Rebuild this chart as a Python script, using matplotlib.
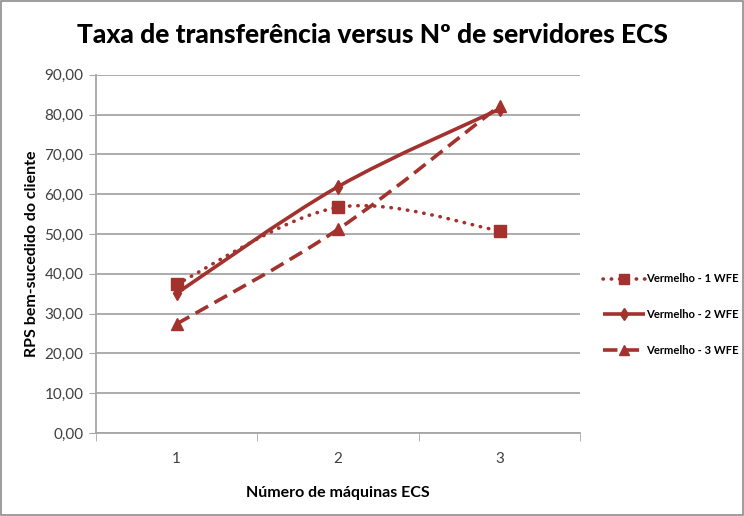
import numpy as np
import matplotlib.pyplot as plt
from matplotlib.path import Path
from matplotlib.patches import PathPatch
from matplotlib.lines import Line2D

# data
categorias = [1, 2, 3]
wfe_1 = [37.4, 56.7, 50.8]
wfe_2 = [35.1, 61.9, 81.4]
wfe_3 = [27.4, 51.2, 82.2]
series_nomes = ['Vermelho - 1 WFE', 'Vermelho - 2 WFE', 'Vermelho - 3 WFE']
y_ticks = np.arange(0, 91, 10)

cor = '#A3322E'
grade = '#A6A6A6'
plt.rcParams['font.family'] = ['Lato', 'DejaVu Sans']


def curva_suave(x, y):
    # Excel-style smoothed line: cubic Bezier segments through the points
    x = np.asarray(x, float)
    y = np.asarray(y, float)
    n = len(x)
    verts = [(x[0], y[0])]
    codes = [Path.MOVETO]
    t = 1 / 6
    for i in range(n - 1):
        x0, y0 = (x[i - 1], y[i - 1]) if i > 0 else (x[i], y[i])
        x3, y3 = (x[i + 2], y[i + 2]) if i + 2 < n else (x[i + 1], y[i + 1])
        c1 = (x[i] + (x[i + 1] - x0) * t, y[i] + (y[i + 1] - y0) * t)
        c2 = (x[i + 1] - (x3 - x[i]) * t, y[i + 1] - (y3 - y[i]) * t)
        verts += [c1, c2, (x[i + 1], y[i + 1])]
        codes += [Path.CURVE4] * 3
    return Path(verts, codes)


fig = plt.figure(figsize=(7.44, 5.16), dpi=100)
ax = fig.add_axes([0.129, 0.161, 0.651, 0.694])

estilos = [
    dict(ls=(0, (0.1, 2.2)), marker='s', ms=8, capstyle='round'),
    dict(ls='-', marker='d', ms=7, capstyle='butt'),
    dict(ls=(0, (4, 2)), marker='^', ms=8, capstyle='butt'),
]
handles = []
for vals, nome, st in zip([wfe_1, wfe_2, wfe_3], series_nomes, estilos):
    patch = PathPatch(curva_suave(categorias, vals), facecolor='none', edgecolor=cor,
                      lw=2.6, linestyle=st['ls'], capstyle=st['capstyle'], zorder=3)
    ax.add_patch(patch)
    ax.plot(categorias, vals, ls='none', marker=st['marker'], ms=st['ms'],
            color=cor, zorder=4)
    h = Line2D([], [], color=cor, lw=2.6, ls=st['ls'], marker=st['marker'],
               ms=st['ms'] - 1, solid_capstyle='butt', dash_capstyle=st['capstyle'])
    handles.append(h)

ax.set_xlim(0.5, 3.5)
ax.set_ylim(0, 90)
ax.set_yticks(y_ticks)
ax.set_yticklabels([f'{v:.2f}'.replace('.', ',') for v in y_ticks], fontsize=11,
                   color='#404040')
ax.set_xticks(categorias)
ax.set_xticklabels([str(c) for c in categorias], fontsize=11, color='#404040')
ax.set_xticks([0.5, 1.5, 2.5, 3.5], minor=True)
ax.tick_params(axis='x', which='major', length=0, pad=14)
ax.tick_params(axis='x', which='minor', length=6, color=grade, direction='out')
ax.tick_params(axis='y', length=5, color=grade, direction='out', pad=4)
ax.yaxis.grid(True, color=grade, lw=1.3)
ax.set_axisbelow(True)
for s in ['top', 'right']:
    ax.spines[s].set_visible(False)
for s in ['left', 'bottom']:
    ax.spines[s].set_color(grade)
    ax.spines[s].set_linewidth(1.3)

ax.set_xlabel('Número de máquinas ECS', fontsize=11.5, fontweight='bold', labelpad=14)
ax.set_ylabel('RPS bem-sucedido do cliente', fontsize=11.5, fontweight='bold', labelpad=4)
fig.suptitle('Taxa de transferência versus Nº de servidores ECS', fontsize=19,
             fontweight='black', y=0.955)

ax.legend(handles, series_nomes, loc='center left', bbox_to_anchor=(1.025, 0.33),
          frameon=False, prop={'weight': 'bold', 'size': 8.1},
          handlelength=3.8, handletextpad=0.05, labelspacing=2.2)

fig.patches.append(plt.Rectangle((0.002, 0.002), 0.996, 0.996, transform=fig.transFigure,
                                 fill=False, edgecolor='#8C8C8C', lw=1.2))
fig.savefig('out.png', dpi=100)
